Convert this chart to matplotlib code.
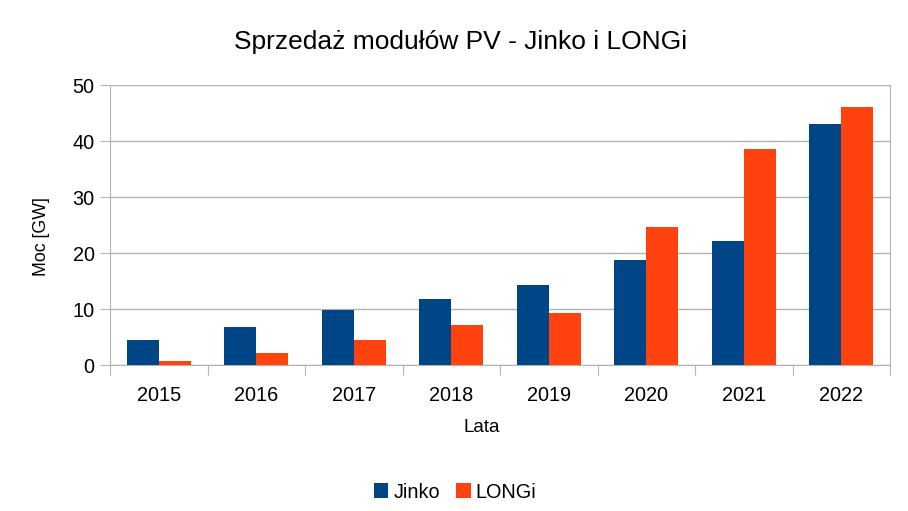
import numpy as np
import matplotlib.pyplot as plt

plt.rcParams['font.family'] = ['Liberation Sans', 'DejaVu Sans']

years = ['2015', '2016', '2017', '2018', '2019', '2020', '2021', '2022']
jinko = [4.5, 6.7, 9.8, 11.7, 14.3, 18.8, 22.2, 43.1]
longi = [0.8, 2.1, 4.5, 7.1, 9.2, 24.6, 38.6, 46.1]

fig = plt.figure(figsize=(9.08, 5.11), dpi=100)
ax = fig.add_axes([110/908, 1-365/511, 780/908, 280/511])

x = np.arange(len(years))
w = 0.33
ax.bar(x - w/2, jinko, w, color='#004586', label='Jinko', zorder=3)
ax.bar(x + w/2, longi, w, color='#ff420e', label='LONGi', zorder=3)

ax.set_xlim(-0.5, len(years) - 0.5)
ax.set_ylim(0, 50)
ax.set_yticks(range(0, 51, 10))
ax.yaxis.grid(True, color='#b3b3b3', linewidth=1, zorder=0)

# ticks at category borders, labels in the middle
ax.set_xticks(np.arange(-0.5, len(years)), minor=False)
ax.set_xticklabels([])
ax.set_xticks(x, minor=True)
ax.set_xticklabels(years, minor=True)
ax.tick_params(axis='x', which='minor', length=0, labelsize=14.3, pad=15)
ax.tick_params(axis='x', which='major', length=7, color='#b3b3b3')
ax.tick_params(axis='y', length=7, color='#b3b3b3', labelsize=14.3, pad=4)

for s in ['left', 'right', 'bottom']:
    ax.spines[s].set_color('#b3b3b3')
ax.spines['top'].set_visible(False)

ax.set_ylabel('Moc [GW]', fontsize=12.8)
ax.set_xlabel('Lata', fontsize=13.5)
ax.yaxis.set_label_coords(-(110 - 41) / 780, (365 - 237) / 280)
ax.xaxis.set_label_coords((482 - 110) / 780, -(427 - 365) / 280)
ax.yaxis.label.set_va('center')
ax.xaxis.label.set_va('center')

fig.text(461/908, 1-42/511, 'Sprzedaż modułów PV - Jinko i LONGi',
         ha='center', va='center', fontsize=19)

fig.legend(loc='center', bbox_to_anchor=(455/908, 1-492/511), ncol=2,
           frameon=False, fontsize=14.3, handlelength=0.75, handleheight=0.75,
           handletextpad=0.25, columnspacing=0.8)

fig.savefig('out.png', dpi=100)
